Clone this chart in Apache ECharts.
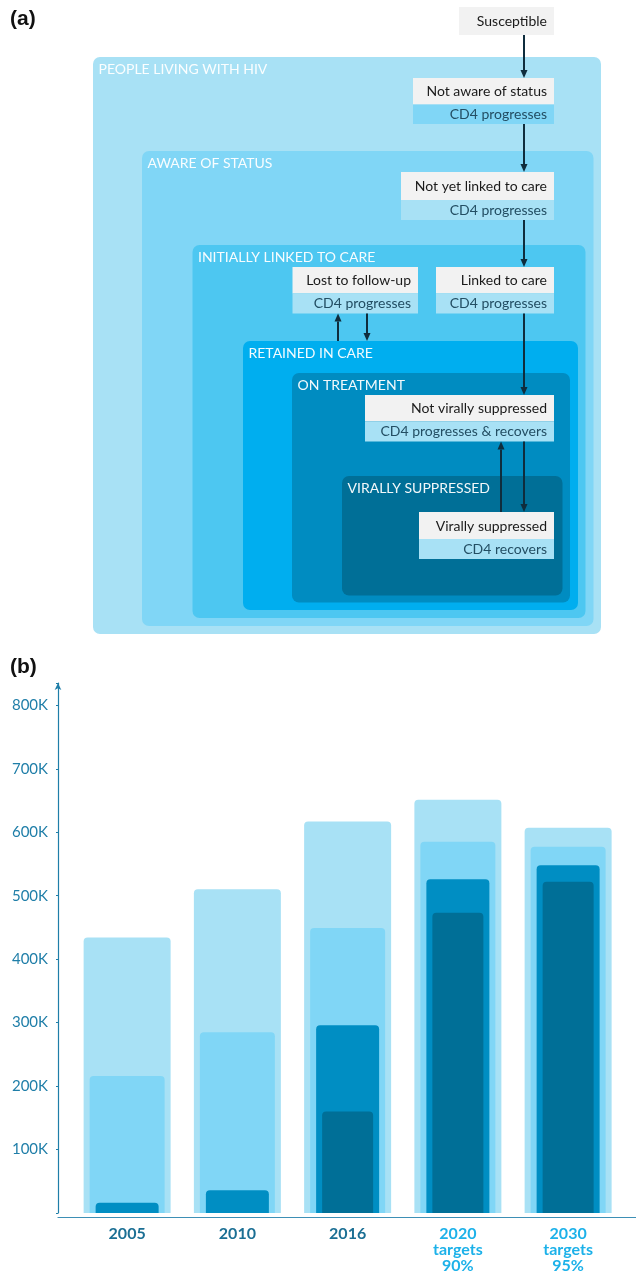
<!DOCTYPE html>
<html>
<head>
<meta charset="utf-8">
<script src="https://cdn.jsdelivr.net/npm/echarts@6/dist/echarts.min.js"></script>
<style>
html,body{margin:0;padding:0;background:#fff;}
#chart{width:636px;height:1274px;}
</style>
</head>
<body>
<div id="chart"></div>
<script>
// ---------- DATA ----------
// Panel (b): people (thousands) by cascade stage
const years = ['2005', '2010', '2016', '2020\ntargets\n90%', '2030\ntargets\n95%'];
const plhiv = [434, 510, 617, 651, 607];
const aware = [216, 285, 449, 585, 577];
const onTreatment = [16, 36, 296, 526, 548];
const suppressed = [null, null, 160, 473, 522];
const yTickLabels = ['', '100K', '200K', '300K', '400K', '500K', '600K', '700K', '800K'];

// Panel (a): model structure texts
const stageNames = ['PEOPLE LIVING WITH HIV', 'AWARE OF STATUS', 'INITIALLY LINKED TO CARE', 'RETAINED IN CARE', 'ON TREATMENT', 'VIRALLY SUPPRESSED'];
const stateNames = ['Susceptible', 'Not aware of status', 'Not yet linked to care', 'Lost to follow-up', 'Linked to care', 'Not virally suppressed', 'Virally suppressed'];
const stateSubs = ['', 'CD4 progresses', 'CD4 progresses', 'CD4 progresses', 'CD4 progresses', 'CD4 progresses & recovers', 'CD4 recovers'];

// ---------- LAYOUT / STYLE ----------
const stageColors = ['#a8e1f5', '#80d6f6', '#4dc7f1', '#00aeef', '#008cc1', '#006f97'];
const stageRects = [
  [93, 57, 601, 634],
  [142, 151, 593.5, 626],
  [192.5, 245, 585.5, 618],
  [243, 341, 578, 610],
  [292, 373, 570, 602.5],
  [342, 476, 562.5, 595.5]
];
// [x1, yTop, yMid, yBottom, x2]
const stateBoxes = [
  [459, 7, 35, 35, 554],
  [413, 78, 104.5, 124, 554],
  [401, 172, 200, 220, 554],
  [292.5, 267, 293.5, 313.5, 418],
  [436, 267, 293.5, 313.5, 554],
  [365, 395, 421.5, 441.5, 554],
  [419, 512, 539, 559, 554]
];
const subColors = ['#a8e1f5', '#80d6f6', '#a8e1f5', '#a8e1f5', '#a8e1f5', '#a8e1f5', '#a8e1f5'];
// [x, yFrom, yTo] arrow tip at yTo
const arrows = [
  [524, 35, 78], [524, 124, 172], [524, 220, 267], [524, 313.5, 395], [524, 441.5, 512],
  [501, 512, 441.5], [338, 341, 313.5], [367, 313.5, 341]
];

const FONT = 'Lato, "Open Sans", sans-serif';
const graphics = [];
graphics.push({type:'text', style:{text:'(a)', x:10, y:19, font:'bold 21px "Liberation Sans", Arial, sans-serif', fill:'#111', textVerticalAlign:'middle'}});
graphics.push({type:'text', style:{text:'(b)', x:10, y:667, font:'bold 21px "Liberation Sans", Arial, sans-serif', fill:'#111', textVerticalAlign:'middle'}});

stageRects.forEach((r, i) => {
  graphics.push({type:'rect', shape:{x:r[0], y:r[1], width:r[2]-r[0], height:r[3]-r[1], r:7}, style:{fill:stageColors[i]}, z:10+i});
  graphics.push({type:'text', style:{text:stageNames[i], x:r[0]+5.5, y:r[1]+12, font:'14px ' + FONT, fill:'rgba(255,255,255,0.95)', textVerticalAlign:'middle'}, z:10+i});
});
stateBoxes.forEach((b, i) => {
  graphics.push({type:'rect', shape:{x:b[0], y:b[1], width:b[4]-b[0], height:b[2]-b[1]}, style:{fill:'#f2f2f2'}, z:30});
  graphics.push({type:'text', style:{text:stateNames[i], x:b[4]-7, y:(b[1]+b[2])/2+0.5, font:'14px ' + FONT, fill:'#1a1a1a', textAlign:'right', textVerticalAlign:'middle'}, z:31});
  if (stateSubs[i]) {
    graphics.push({type:'rect', shape:{x:b[0], y:b[2], width:b[4]-b[0], height:b[3]-b[2]}, style:{fill:subColors[i]}, z:30});
    graphics.push({type:'text', style:{text:stateSubs[i], x:b[4]-7, y:(b[2]+b[3])/2, font:'14px ' + FONT, fill:'#234e63', textAlign:'right', textVerticalAlign:'middle'}, z:31});
  }
});
arrows.forEach(a => {
  const dir = a[2] > a[1] ? 1 : -1;
  const baseY = a[2] - dir*8;
  graphics.push({type:'line', shape:{x1:a[0], y1:a[1], x2:a[0], y2:baseY}, style:{stroke:'#0f2d3d', lineWidth:2}, z:40});
  graphics.push({type:'polygon', shape:{points:[[a[0]-3.5, baseY], [a[0]+3.5, baseY], [a[0], a[2]]]}, style:{fill:'#0f2d3d'}, z:40});
});

// ---------- CHART ----------
const axisBlue = '#1f7ea8';
const gridMain = {left:72, right:12.75, top:683.1, bottom:56.5};
const barWidths = [87, 75, 63, 51];
const barColors = ['#a8e1f5', '#80d6f6', '#008ec3', '#006f97'];
const seriesData = [plhiv, aware, onTreatment, suppressed];
const seriesNames = ['People living with HIV', 'Aware of status', 'On treatment', 'Virally suppressed'];

const xAxes = [0,1,2,3].map(i => ({
  type:'category', data:years, gridIndex:0,
  axisLine:{show:false}, axisTick:{show:false},
  axisLabel: i === 0 ? {
    show:true, margin:13, fontFamily:FONT, fontWeight:'bold', fontSize:16, lineHeight:16,
    color:(v, idx) => idx >= 3 ? '#1cb1e9' : '#1b6f94'
  } : {show:false}
}));
xAxes.push({type:'value', gridIndex:1, min:0, max:1, axisLine:{show:true, lineStyle:{color:'#3d8fb5', width:1.2}}, axisTick:{show:false}, axisLabel:{show:false}, splitLine:{show:false}});

const option = {
  animation:false,
  graphic: graphics,
  grid:[gridMain, {left:58, right:0, top:683.1, bottom:56.5}],
  xAxis: xAxes,
  yAxis:[{
    type:'value', gridIndex:0, min:0, max:835, interval:100, offset:14,
    axisLine:{show:true, lineStyle:{color:axisBlue, width:1.2}, symbol:['none','arrow'], symbolSize:[5,7]},
    axisTick:{show:true, length:2, lineStyle:{color:axisBlue}},
    splitLine:{show:false},
    axisLabel:{margin:10, fontFamily:FONT, fontSize:15, color:axisBlue,
      formatter:(v) => (v % 100 === 0 && v/100 < yTickLabels.length) ? yTickLabels[v/100] : ''}
  },{
    type:'value', gridIndex:1, show:false, min:0, max:1
  }],
  series: seriesData.map((d, i) => ({
    type:'bar', name:seriesNames[i], xAxisIndex:i, yAxisIndex:0,
    data:d, barWidth:barWidths[i], z:2+i,
    itemStyle:{color:barColors[i], borderRadius:[4,4,0,0]}
  }))
};
const chart = echarts.init(document.getElementById('chart'), null, {renderer:'canvas'});
chart.setOption(option);
</script>
</body>
</html>
